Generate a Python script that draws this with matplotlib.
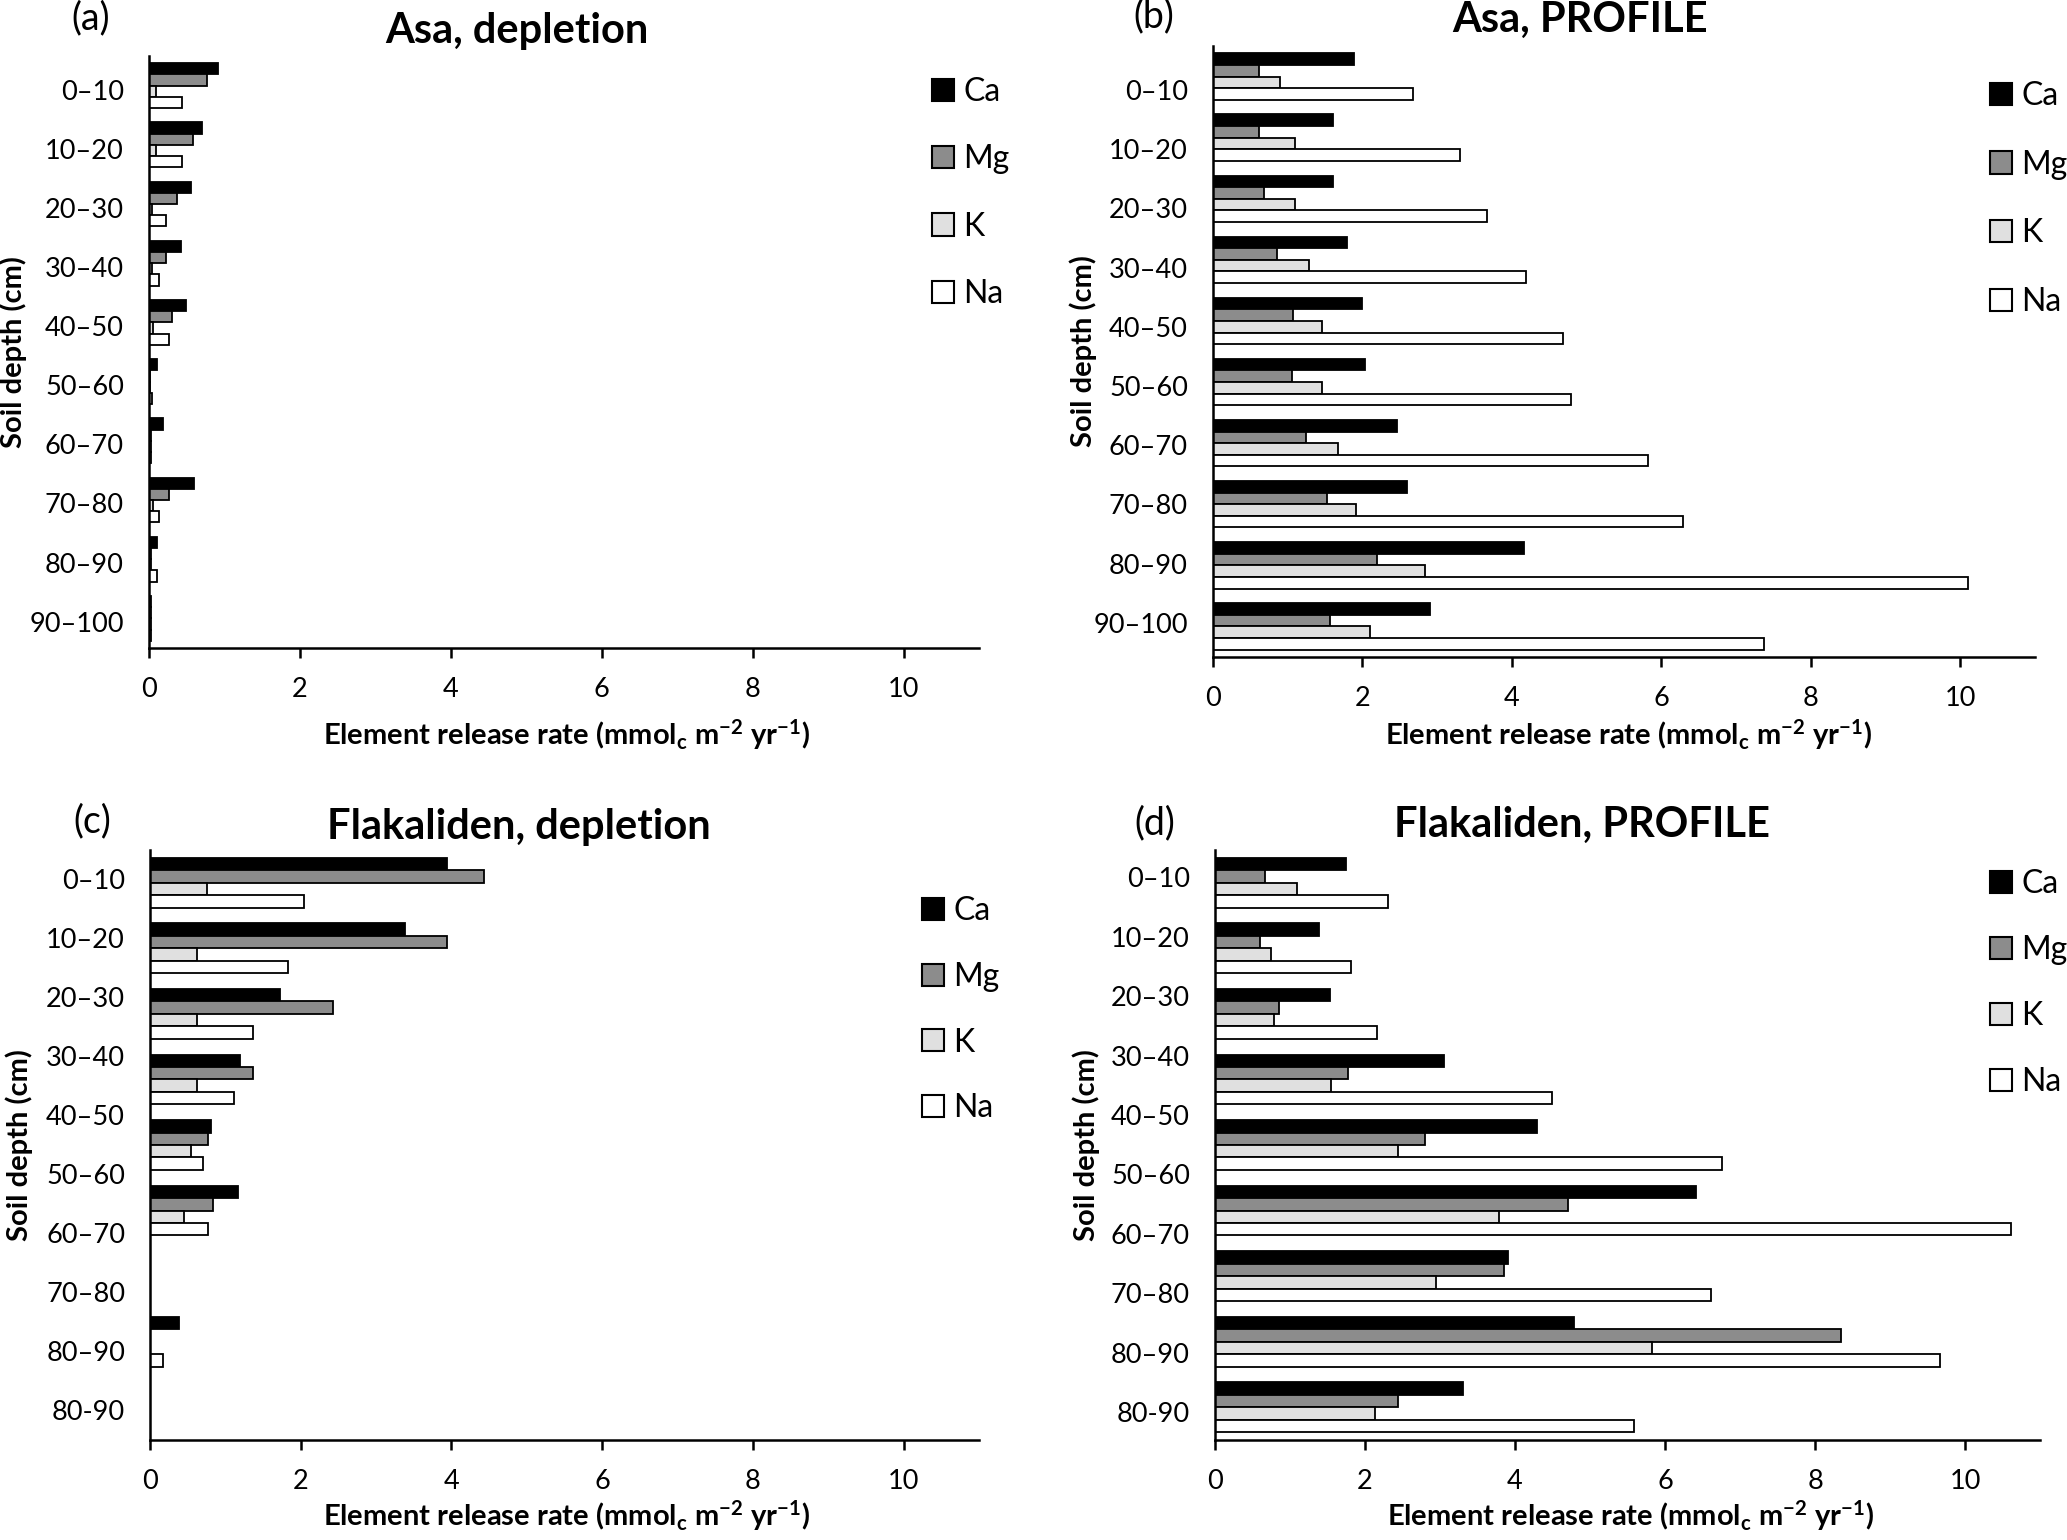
import numpy as np
import matplotlib
matplotlib.use("Agg")
import matplotlib.pyplot as plt
from matplotlib.patches import Patch

plt.rcParams['font.family'] = ['Lato', 'DejaVu Sans']
plt.rcParams['mathtext.fontset'] = 'custom'
plt.rcParams['mathtext.rm'] = 'Lato'
plt.rcParams['mathtext.bf'] = 'Lato:bold'
plt.rcParams['mathtext.it'] = 'Lato:italic'

# data (mmol_c m-2 yr-1)
elements = ["Ca", "Mg", "K", "Na"]
colors = ["black", "#8c8c8c", "#e0e0e0", "white"]

depth_asa = ["0–10", "10–20", "20–30", "30–40", "40–50",
             "50–60", "60–70", "70–80", "80–90", "90–100"]
depth_flak = ["0–10", "10–20", "20–30", "30–40", "40–50",
              "50–60", "60–70", "70–80", "80–90", "80-90"]

asa_dep_ca = [0.91, 0.70, 0.56, 0.42, 0.49, 0.10, 0.18, 0.59, 0.10, 0.02]
asa_dep_mg = [0.77, 0.58, 0.37, 0.23, 0.30, 0.01, 0.03, 0.27, 0.03, 0.03]
asa_dep_k = [0.09, 0.09, 0.04, 0.04, 0.05, 0.01, 0.02, 0.05, 0.02, 0.02]
asa_dep_na = [0.44, 0.44, 0.23, 0.13, 0.27, 0.04, 0.03, 0.13, 0.10, 0.02]

asa_pro_ca = [1.89, 1.61, 1.61, 1.79, 2.00, 2.03, 2.46, 2.60, 4.16, 2.91]
asa_pro_mg = [0.61, 0.61, 0.68, 0.85, 1.07, 1.06, 1.24, 1.52, 2.20, 1.56]
asa_pro_k = [0.89, 1.10, 1.10, 1.28, 1.46, 1.46, 1.67, 1.92, 2.84, 2.10]
asa_pro_na = [2.67, 3.31, 3.66, 4.19, 4.69, 4.79, 5.82, 6.29, 10.11, 7.38]

flak_dep_ca = [3.94, 3.38, 1.73, 1.20, 0.81, 1.17, 0, 0.39, 0]
flak_dep_mg = [4.43, 3.94, 2.43, 1.37, 0.77, 0.83, 0, 0, 0]
flak_dep_k = [0.76, 0.63, 0.63, 0.63, 0.55, 0.45, 0, 0, 0]
flak_dep_na = [2.04, 1.83, 1.37, 1.12, 0.70, 0.77, 0, 0.17, 0]

flak_pro_ca = [1.74, 1.39, 1.53, 3.05, 4.29, 6.41, 3.90, 4.78, 3.30]
flak_pro_mg = [0.67, 0.60, 0.85, 1.77, 2.80, 4.71, 3.85, 8.35, 2.44]
flak_pro_k = [1.09, 0.75, 0.78, 1.55, 2.44, 3.78, 2.94, 5.83, 2.13]
flak_pro_na = [2.30, 1.81, 2.16, 4.49, 6.76, 10.61, 6.61, 9.66, 5.58]

titles = ["Asa, depletion", "Asa, PROFILE",
          "Flakaliden, depletion", "Flakaliden, PROFILE"]
letters = ["(a)", "(b)", "(c)", "(d)"]

# layout in pixels of the 2067x1540 picture
W, H = 2067, 1540
ax_px = [(149, 56, 979, 648), (1213, 46, 2035, 657),
         (150, 850, 979, 1440), (1215, 850, 2040, 1440)]
label_frac = [(0.0573, 0.0998), (0.072, 0.0969), (0.049, 0.100), (0.046, 0.1008)]
title_px = [(517, 43), (1580, 32), (519, 839), (1582, 837)]
letter_px = [(91, 18), (1154, 16), (92, 821), (1155, 823)]
ylab_px = [(13, 352), (1083, 351), (19, 1145), (1086, 1145)]
xlab_px = [(566, 745), (1628, 745), (566, 1526), (1630, 1526)]
leg_px = [(932, 77, 1.17), (1990, 81, 1.21), (922, 896, 1.12), (1990, 869, 1.13)]

series = [
    (depth_asa, [asa_dep_ca, asa_dep_mg, asa_dep_k, asa_dep_na]),
    (depth_asa, [asa_pro_ca, asa_pro_mg, asa_pro_k, asa_pro_na]),
    (depth_flak, [flak_dep_ca, flak_dep_mg, flak_dep_k, flak_dep_na]),
    (depth_flak, [flak_pro_ca, flak_pro_mg, flak_pro_k, flak_pro_na]),
]

fig = plt.figure(figsize=(W / 100, H / 100), dpi=100)

bh = 0.19
for k, (labels, vals) in enumerate(series):
    l, t, r, b = ax_px[k]
    ax = fig.add_axes([l / W, 1 - b / H, (r - l) / W, (b - t) / H])
    n = len(vals[0])
    y = np.arange(n)
    for j in range(4):
        ax.barh(y + (j - 1.5) * bh, vals[j], height=bh, color=colors[j],
                edgecolor="black", linewidth=1.3)
    ax.set_xlim(0, 11)
    ax.set_ylim(n - 0.5, -0.5)
    ax.set_xticks(range(0, 11, 2))
    f0, fs = label_frac[k]
    frac = f0 + fs * np.arange(len(labels))
    ax.set_yticks(-0.5 + frac * n)
    ax.set_yticklabels(labels)
    for s in ["top", "right"]:
        ax.spines[s].set_visible(False)
    for s in ["left", "bottom"]:
        ax.spines[s].set_linewidth(1.8)
    ax.tick_params(axis="y", length=0, pad=18, labelsize=19.5)
    ax.tick_params(axis="x", length=7.2, width=1.8, pad=14, labelsize=19.5)

    tx, ty = title_px[k]
    fig.text(tx / W, 1 - ty / H, titles[k], ha="center", va="baseline",
             fontsize=30, fontweight="bold")
    lx, ly = letter_px[k]
    fig.text(lx / W, 1 - ly / H, letters[k], ha="center", va="center", fontsize=27)
    yx, yy = ylab_px[k]
    fig.text(yx / W, 1 - yy / H, "Soil depth (cm)", ha="center", va="center",
             rotation=90, fontsize=21, fontweight="bold")
    xx, xy = xlab_px[k]
    fig.text(xx / W, 1 - xy / H,
             r"Element release rate (mmol$_\mathbf{c}$ m$^\mathbf{-2}$ yr$^\mathbf{-1}$)",
             ha="center", va="baseline", fontsize=21, fontweight="bold")

    gx, gy, sp = leg_px[k]
    handles = [Patch(facecolor=c, edgecolor="black", linewidth=1.5) for c in colors]
    fig.legend(handles, elements, loc="upper left",
               bbox_to_anchor=(gx / W, 1 - gy / H), frameon=False, fontsize=23,
               handlelength=0.69, handleheight=0.69, handletextpad=0.3,
               labelspacing=sp, borderpad=0, borderaxespad=0)

fig.savefig("out.png", dpi=100)
